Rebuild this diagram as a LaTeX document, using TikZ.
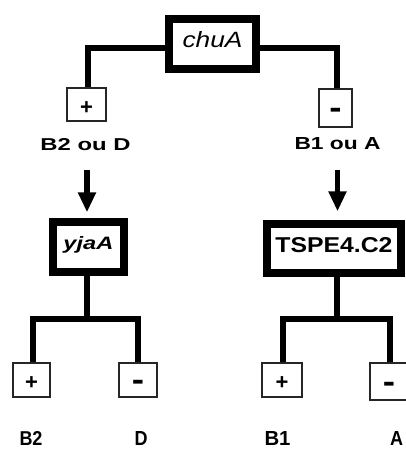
\documentclass[tikz,border=0pt]{standalone}
\usepackage{fontspec}
\setmainfont{Liberation Sans}
\usepackage{graphicx}
\usetikzlibrary{arrows.meta}
\begin{document}
\begin{tikzpicture}[x=1pt,y=-1pt,
  bigbox/.style={draw, line width=8.5pt, inner sep=0pt, text depth=8pt},
  smallbox/.style={draw=black!85, line width=1.8pt, inner sep=0pt},
  plusbox/.style={smallbox, font=\fontsize{22}{22}\selectfont\bfseries, text height=20pt, text depth=0.2pt},
  minusbox/.style={smallbox, font=\fontsize{16}{16}\selectfont\bfseries, text height=22pt, text depth=0.2pt},
  conn/.style={line width=6.5pt},
  arr/.style={line width=5.5pt, -{Triangle[width=17pt,length=20pt]}},
  lbl/.style={inner sep=0pt, anchor=base, font=\bfseries}
]
\useasboundingbox (0,0) rectangle (405,449);
\fill[white] (0,0) rectangle (405,449);

% big boxes
\node[bigbox, minimum width=87pt, minimum height=50pt, text height=16pt] (chuA) at (212.5,44) {\resizebox{60pt}{16pt}{\itshape chuA}};
\node[bigbox, minimum width=71pt, minimum height=50pt, text height=13pt] (yjaA) at (88.5,247) {\resizebox{50pt}{13pt}{\bfseries\itshape yjaA}};
\node[bigbox, minimum width=134pt, minimum height=49pt, text height=15pt] (tspe) at (334,248.5) {\resizebox{117pt}{15pt}{\bfseries TSPE4.C2}};

% small boxes
\node[plusbox, minimum width=39pt, minimum height=33pt] (pA) at (86.5,104.5) {+};
\node[minusbox, minimum width=33pt, minimum height=38pt] (mA) at (335.5,108) {\scalebox{2.3}[2]{-}};
\node[plusbox, minimum width=37pt, minimum height=34pt] (pB2) at (31.5,380) {+};
\node[minusbox, minimum width=38pt, minimum height=34pt] (mD) at (138,380) {\scalebox{2.3}[2]{-}};
\node[plusbox, minimum width=40pt, minimum height=34pt] (pB1) at (282,380) {+};
\node[minusbox, minimum width=38pt, minimum height=37pt] (mAA) at (389,381.5) {\scalebox{2.3}[2]{-}};

% labels
\node[lbl] (lblL) at (85.5,150) {\resizebox{90pt}{12pt}{B2 ou D}};
\node[lbl] (lblR) at (337.5,150) {\resizebox{86pt}{12pt}{B1 ou A}};
\node[lbl] (lB2) at (31,445) {\resizebox{23pt}{14pt}{B2}};
\node[lbl] (lD) at (141,445) {\resizebox{13pt}{14pt}{D}};
\node[lbl] (lB1) at (277.5,445) {\resizebox{26pt}{14pt}{B1}};
\node[lbl, anchor=base west] (lA) at (390,445) {\resizebox{13pt}{14pt}{A}};

% connectors
\draw[conn] ([yshift=-4pt]chuA.west) -| ([xshift=1.5pt]pA.north);
\draw[conn] ([yshift=-4pt]chuA.east) -| ([xshift=1.5pt]mA.north);

\draw[arr] ([xshift=1.5pt,yshift=-20pt]lblL.south) -- ++(0,42);
\draw[arr] ([yshift=-20pt]lblR.south) -- ++(0,41);

\draw[conn] ([xshift=-1.5pt]yjaA.south) -- ++(0,42.5);
\draw[conn] ([xshift=1.5pt]pB2.north) -- ++(0,-43) -| (mD.north);
\draw[conn] ([xshift=3pt]tspe.south) -- ++(0,42.5);
\draw[conn] ([xshift=1pt]pB1.north) -- ++(0,-43) -| ([xshift=1pt]mAA.north);
\end{tikzpicture}
\end{document}
